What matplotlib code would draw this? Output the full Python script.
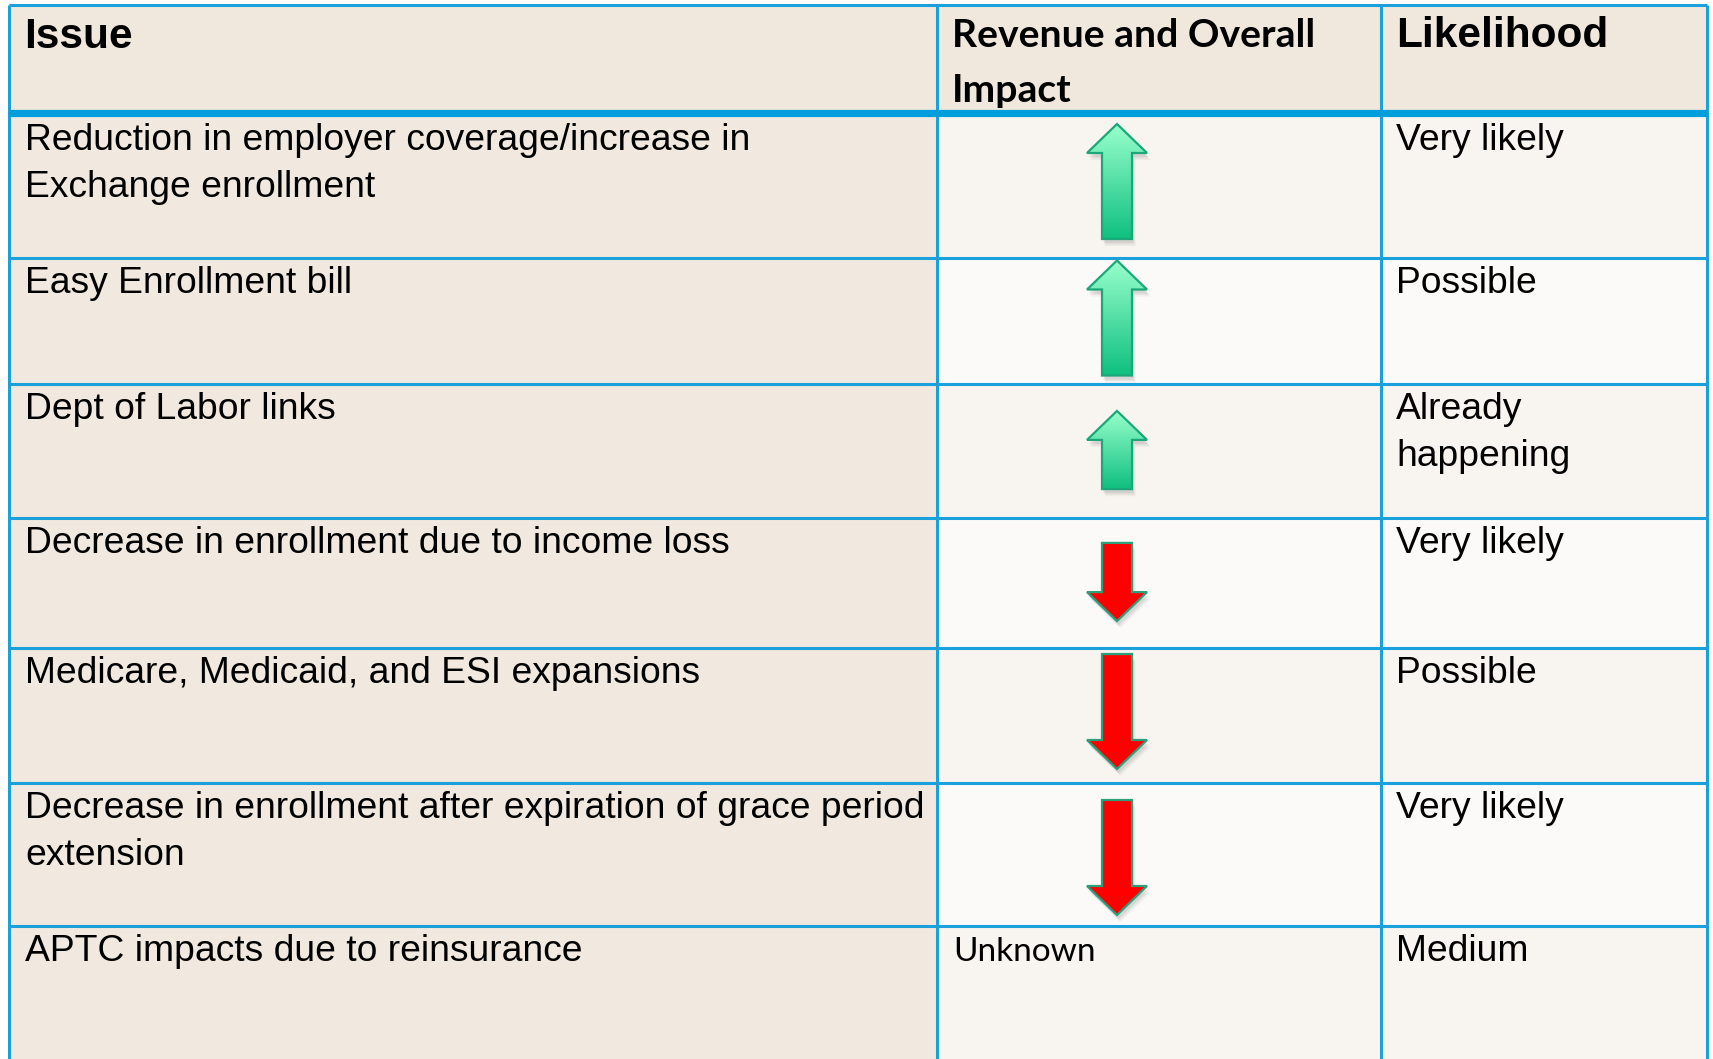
import numpy as np
import matplotlib
matplotlib.use("Agg")
import matplotlib.pyplot as plt
from matplotlib.patches import Polygon, Rectangle

# ---------------- data ----------------
headers = ["Issue", "Revenue and Overall\nImpact", "Likelihood"]
issues = [
    "Reduction in employer coverage/increase in\nExchange enrollment",
    "Easy Enrollment bill",
    "Dept of Labor links",
    "Decrease in enrollment due to income loss",
    "Medicare, Medicaid, and ESI expansions",
    "Decrease in enrollment after expiration of grace period\nextension",
    "APTC impacts due to reinsurance",
]
impact = [1.0, 1.0, 0.68, -0.68, -1.0, -1.0, None]   # + up / - down, relative arrow size
impact_text = ["", "", "", "", "", "", "Unknown"]
likelihood = ["Very likely", "Possible", "Already\nhappening", "Very likely",
              "Possible", "Very likely", "Medium"]

# ---------------- layout (pixel coordinates) ----------------
W, H = 1713, 1059
fig = plt.figure(figsize=(W / 100, H / 100), dpi=100)
ax = fig.add_axes([0, 0, 1, 1])
ax.set_xlim(0, W)
ax.set_ylim(H, 0)
ax.axis("off")

col_x = [9, 937, 1381, 1707]
text_x = [25, 953, 1397]
top = 5
header_line = 113
row_lines = [header_line, 258, 384, 518, 648, 783, 926, H + 5]
arrow_dy = [-3, -2, 0, 0, -3, 4, 0]   # small vertical nudges of the arrows (layout)

line_col = "#1AA1DC"
thick_col = "#009EDB"
hdr_bg = "#F1E8DD"
col1_bg = "#F1E9DF"
body_bg = ["#F8F5F0", "#FBFAF8"]

arial = "Liberation Sans"
calibri = "Lato"

# backgrounds
ax.add_patch(Rectangle((col_x[0], top), col_x[3] - col_x[0], header_line - top,
                       facecolor=hdr_bg, edgecolor="none", zorder=0))
for i in range(len(issues)):
    y0, y1 = row_lines[i], row_lines[i + 1]
    ax.add_patch(Rectangle((col_x[0], y0), col_x[1] - col_x[0], y1 - y0,
                           facecolor=col1_bg, edgecolor="none", zorder=0))
    ax.add_patch(Rectangle((col_x[1], y0), col_x[3] - col_x[1], y1 - y0,
                           facecolor=body_bg[i % 2], edgecolor="none", zorder=0))

# grid lines
ax.plot([col_x[0], col_x[3]], [top, top], color=line_col, lw=2.2, zorder=3, solid_capstyle="butt")
for y in row_lines[1:-1]:
    ax.plot([col_x[0], col_x[3]], [y, y], color=line_col, lw=2.2, zorder=3, solid_capstyle="butt")
ax.plot([col_x[0], col_x[3]], [header_line, header_line], color=thick_col, lw=5.2, zorder=4,
        solid_capstyle="butt")
for x in col_x:
    ax.plot([x, x], [top, H + 5], color=line_col, lw=2.2, zorder=3, solid_capstyle="butt")


def put_text(x, y, s, spacing, **kw):
    for k, line in enumerate(s.split("\n")):
        ax.text(x, y + k * spacing, line, va="baseline", ha="left", zorder=5, **kw)


# header text
put_text(text_x[0] - 1, 48, headers[0], 55, family=arial, fontweight="bold", fontsize=30.5, color="black")
put_text(text_x[1] - 1, 47, headers[1], 55, family=calibri, fontweight="bold", fontsize=28.2, color="black")
put_text(text_x[2] - 1, 47, headers[2], 55, family=arial, fontweight="bold", fontsize=30.5, color="black")

# body text
for i in range(len(issues)):
    half = 3.5 if i == 0 else 1.5
    base = row_lines[i] + half + 33.5
    put_text(text_x[0], base, issues[i], 47, family=arial, fontsize=26.8, color="black")
    put_text(text_x[2] - 1, base, likelihood[i], 47, family=arial, fontsize=26.8, color="black")
    if impact_text[i]:
        put_text(text_x[1], base, impact_text[i], 47, family=calibri, fontsize=24, color="black")

# arrows
arrow_cx = 1117
full_len = 115
head_len = 29
head_w = 60
shaft_w = 30


def arrow_poly(cx, cy, length, up):
    s = -1 if up else 1          # direction of the tip in pixel y
    tip = cy + s * length / 2
    tail = cy - s * length / 2
    base = tip - s * head_len
    return np.array([
        [cx, tip],
        [cx + head_w / 2, base],
        [cx + shaft_w / 2, base],
        [cx + shaft_w / 2, tail],
        [cx - shaft_w / 2, tail],
        [cx - shaft_w / 2, base],
        [cx - head_w / 2, base],
    ])


green_top = np.array([0.60, 1.00, 0.80])
green_bot = np.array([0.06, 0.75, 0.50])
grad = np.linspace(0, 1, 256)[:, None, None]
grad_img = green_top * (1 - grad) + green_bot * grad

for i, v in enumerate(impact):
    if v is None:
        continue
    y0, y1 = row_lines[i], row_lines[i + 1]
    cy = (y0 + y1) / 2 - 1 + arrow_dy[i]
    length = abs(v) * full_len
    up = v > 0
    pts = arrow_poly(arrow_cx, cy, length, up)
    # soft shadow
    for k, a in enumerate([0.10, 0.08, 0.06]):
        sh = pts + np.array([1.5 + k, 4 + k * 1.5])
        ax.add_patch(Polygon(sh, closed=True, facecolor="#555555", edgecolor="none",
                             alpha=a, zorder=5))
    if up:
        poly = Polygon(pts, closed=True, facecolor="none", edgecolor="#1BA77A", lw=1.6, zorder=7)
        ax.add_patch(poly)
        clip = Polygon(pts, closed=True, facecolor="none", edgecolor="none",
                       transform=ax.transData)
        ax.add_patch(clip)
        ymin, ymax = pts[:, 1].min(), pts[:, 1].max()
        im = ax.imshow(grad_img, extent=(arrow_cx - head_w / 2, arrow_cx + head_w / 2, ymax, ymin),
                       origin="upper", aspect="auto", zorder=6, interpolation="bilinear")
        im.set_clip_path(clip)
    else:
        ax.add_patch(Polygon(pts, closed=True, facecolor="#FF0000", edgecolor="#2A9F7A",
                             lw=1.6, zorder=7))

ax.set_xlim(0, W)
ax.set_ylim(H, 0)
fig.savefig("out.png", dpi=100, facecolor="white")
